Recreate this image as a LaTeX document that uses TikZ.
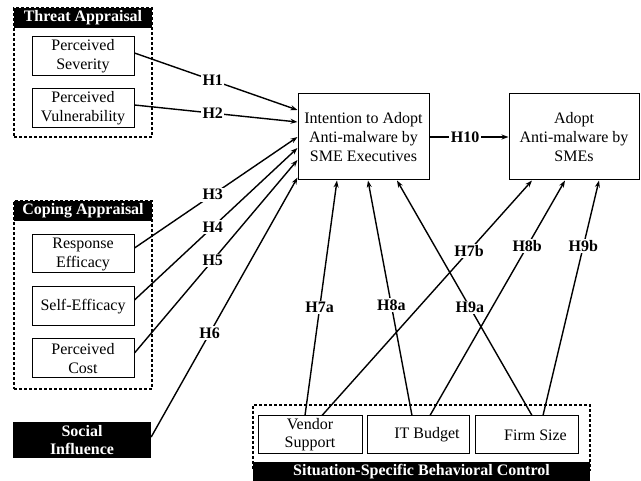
\documentclass[tikz,border=0pt]{standalone}
\usepackage{fontspec}
\setmainfont{Liberation Serif}
\usetikzlibrary{arrows.meta,calc}
\begin{document}
\begin{tikzpicture}[x=1pt,y=-1pt,
  every node/.style={font=\fontsize{16}{19}\selectfont},
  box/.style={draw,line width=1pt,rectangle,inner sep=0pt,align=center,fill=white},
  grp/.style={draw,line width=1.4pt,dash pattern=on 3pt off 2pt,rectangle,inner sep=0pt},
  hdr/.style={fill=black,text=white,rectangle,inner sep=0pt,align=center,font=\fontsize{16}{18}\selectfont\bfseries},
  conn/.style={line width=1.4pt,-{Stealth[length=7pt,width=5pt]}},
  lab/.style={fill=white,inner sep=1.5pt,font=\fontsize{16}{19}\selectfont\bfseries}]
\useasboundingbox (0,0) rectangle (641,481);
% groups
\node[grp,minimum width=138pt,minimum height=129pt] (tgrp) at (83,72.5) {};
\node[hdr,minimum width=138pt,minimum height=20pt] (thdr) at (83,18) {Threat Appraisal};
\node[box,minimum width=102pt,minimum height=39pt] (sev) at (83,56.5) {Perceived\\Severity};
\node[box,minimum width=102pt,minimum height=39pt] (vul) at (83,108.5) {Perceived\\Vulnerability};
\node[grp,minimum width=138pt,minimum height=188pt] (cgrp) at (83,295) {};
\node[hdr,minimum width=138pt,minimum height=20pt] (chdr) at (83,211) {Coping Appraisal};
\node[box,minimum width=102pt,minimum height=38pt] (resp) at (83,254) {Response\\Efficacy};
\node[box,minimum width=102pt,minimum height=39pt] (self) at (83,306.5) {Self-Efficacy};
\node[box,minimum width=102pt,minimum height=39pt] (cost) at (83,358.5) {Perceived\\Cost};
\node[hdr,minimum width=138pt,minimum height=36pt] (social) at (82,440) {Social\\Influence};
\node[box,minimum width=131pt,minimum height=86pt] (int) at (363.5,137) {Intention to Adopt\\Anti-malware by\\SME Executives};
\node[box,minimum width=130pt,minimum height=86pt] (adopt) at (574,137) {Adopt\\Anti-malware by\\SMEs};
\node[grp,minimum width=337pt,minimum height=65pt] (sgrp) at (421.5,437.5) {};
\node[hdr,minimum width=337pt,minimum height=19pt] (shdr) at (421.5,471.5) {Situation-Specific Behavioral Control};
\node[box,minimum width=104pt,minimum height=38pt,font=\fontsize{16}{18}\selectfont] (vend) at (310,435) {Vendor\\Support};
\node[box,minimum width=102pt,minimum height=38pt] (itb) at (418,435) {\hspace*{18pt}IT Budget};
\node[box,minimum width=103pt,minimum height=38pt] (firm) at (526.5,435) {\hspace*{18pt}Firm Size};
% connectors left
\draw[conn] ($(sev.east)+(0,-3.5)$) -- node[lab,pos=0.48] (l1) {H1} ($(int.west)+(0,-27)$);
\draw[conn] ($(vul.east)+(0,-3.5)$) -- node[lab,pos=0.48] (l2) {H2} ($(int.west)+(0,-15)$);
\draw[conn] ($(resp.east)+(0,-6)$) -- node[lab,pos=0.48] (l3) {H3} (int.west);
\draw[conn] ($(self.east)+(0,-6.5)$) -- node[lab,pos=0.48] (l4) {H4} ($(int.west)+(0,11)$);
\draw[conn] ($(cost.east)+(0,-5.5)$) -- node[lab,pos=0.48] (l5) {H5} ($(int.west)+(0,23)$);
\draw[conn] ($(social.east)+(0,-3)$) -- node[lab,pos=0.4] (l6) {H6} ($(int.south west)+(0,-3)$);
\draw[conn] (int.east) -- node[lab,pos=0.45] (l10) {H10} (adopt.west);
% connectors bottom
\draw[conn] ($(vend.north)+(-5,0)$) -- node[lab,pos=0.46] (l7a) {H7a} ($(int.south)+(-26.5,0)$);
\draw[conn] ($(vend.north)+(12,0)$) -- node[lab,pos=0.7] (l7b) {H7b} ($(adopt.south)+(-42,0)$);
\draw[conn] ($(itb.north)+(-6,0)$) -- node[lab,pos=0.47] (l8a) {H8a} ($(int.south)+(4.5,0)$);
\draw[conn] ($(itb.north)+(12,0)$) -- node[lab,pos=0.72] (l8b) {H8b} ($(adopt.south)+(-9,0)$);
\draw[conn] ($(firm.north)+(5.5,0)$) -- node[lab,pos=0.46] (l9a) {H9a} ($(int.south)+(33.5,0)$);
\draw[conn] ($(firm.north)+(16.5,0)$) -- node[lab,pos=0.72] (l9b) {H9b} ($(adopt.south)+(25,0)$);
\end{tikzpicture}
\end{document}
